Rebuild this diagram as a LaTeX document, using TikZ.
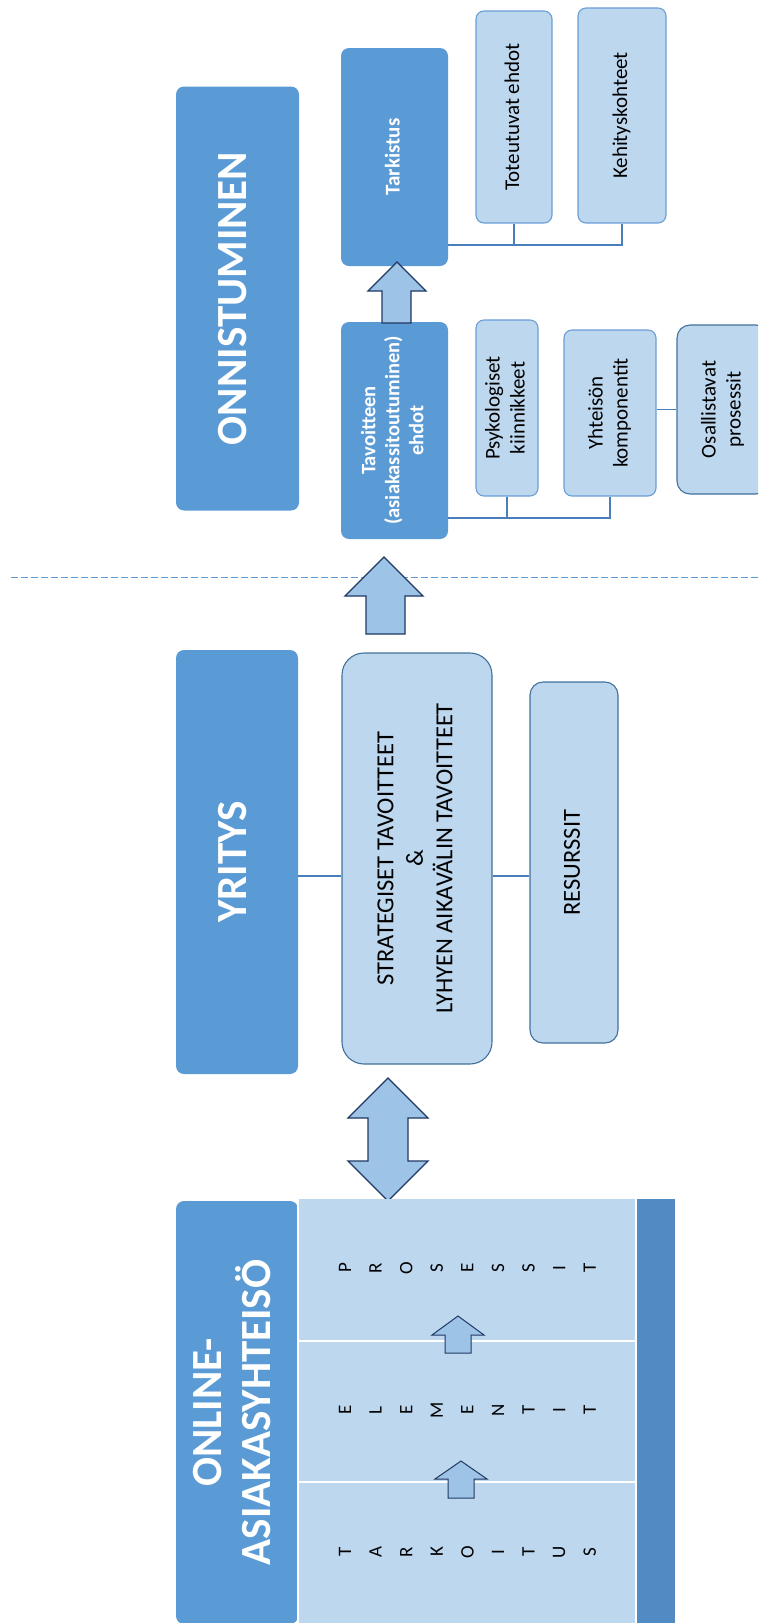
\documentclass[tikz,border=0pt]{standalone}
\usepackage{fontspec}
\usepackage{graphicx}
\setmainfont{Carlito}
\definecolor{boxblue}{HTML}{5B9BD5}
\definecolor{paleblue}{HTML}{BDD7EE}
\definecolor{arrowfill}{HTML}{9DC3E6}
\definecolor{arrowline}{HTML}{203864}
\definecolor{edgeblue}{HTML}{41719C}
\definecolor{softedge}{HTML}{6A9ED6}
\definecolor{stripblue}{HTML}{528BC4}
\definecolor{lineblue}{HTML}{4A7EBB}
\newcommand{\vtext}[1]{\rotatebox{90}{\begin{tabular}{@{}c@{}}#1\end{tabular}}}
\begin{document}
\begin{tikzpicture}[x=1pt, y=-1pt,
    darkbox/.style={fill=boxblue, draw=none, rounded corners=8pt, text=white, inner sep=0pt},
    titlebox/.style={darkbox, font=\fontsize{43}{46}\selectfont\bfseries},
    palebox/.style={fill=paleblue, draw=softedge, line width=1.1pt, rounded corners=8pt, inner sep=0pt,
        font=\fontsize{21}{25}\selectfont},
    bigpale/.style={fill=paleblue, draw=edgeblue, line width=1.1pt, inner sep=0pt,
        font=\fontsize{24.5}{29.5}\selectfont},
    blockarrow/.style={fill=arrowfill, draw=arrowline, line width=1.3pt, line join=miter},
    conn/.style={draw=lineblue, line width=1.3pt},
    letter/.style={rotate=90, inner sep=0pt, font=\fontsize{19}{19}\selectfont}]
    \useasboundingbox (0,0) rectangle (758,1623);
    \clip (0,0) rectangle (758,1623);

    % Separator
    \coordinate (dashL) at (11,577);
    \coordinate (dashR) at (758,577);
    \draw[boxblue, line width=1pt, dash pattern=on 7pt off 3pt] (dashL) -- (dashR);

    % Titles
    \node[titlebox, minimum width=123, minimum height=424] (onnist) at (237.5,298.5) {\vtext{ONNISTUMINEN}};
    \node[titlebox, minimum width=122, minimum height=424] (yritys) at (237,862) {\vtext{YRITYS}};
    \node[titlebox, minimum width=122, minimum height=423] (online) at (237,1412.5) {\vtext{ONLINE-\\ASIAKASYHTEISÖ}};

    % Success side
    \node[darkbox, minimum width=107, minimum height=218, font=\fontsize{21}{25}\selectfont\bfseries]
        (tarkist) at (394.5,157) {\vtext{Tarkistus}};
    \node[palebox, minimum width=76, minimum height=212] (toteut) at (514,117) {\vtext{Toteutuvat ehdot}};
    \node[palebox, minimum width=88, minimum height=215] (kehit) at (622,115.5) {\vtext{Kehityskohteet}};
    \node[darkbox, minimum width=107, minimum height=217, font=\fontsize{20.5}{24}\selectfont\bfseries]
        (tavoit) at (394.5,430.5) {\vtext{Tavoitteen\\(asiakassitoutuminen)\\ehdot}};
    \node[palebox, minimum width=62, minimum height=176] (psyk) at (507,408) {\vtext{Psykologiset\\kiinnikkeet}};
    \node[palebox, minimum width=92, minimum height=166] (yhteis) at (610,413) {\vtext{Yhteisön\\komponentit}};
    \node[palebox, draw=edgeblue, rounded corners=13pt, minimum width=92, minimum height=169]
        (osall) at (723,409.5) {\vtext{Osallistavat\\prosessit}};

    \coordinate (tarjoin) at (tarkist.east |- 0,245);
    \draw[conn] (tarjoin) -- (kehit.south |- tarjoin) -- (kehit.south);
    \draw[conn] (toteut.south) -- (toteut.south |- tarjoin);
    \coordinate (tavjoin) at (tavoit.east |- 0,518);
    \draw[conn] (tavjoin) -- (yhteis.south |- tavjoin) -- (yhteis.south);
    \draw[conn] (psyk.south) -- (psyk.south |- tavjoin);
    \draw[conn] (yhteis.east |- osall.west) -- (osall.west);

    % Arrow up to Tarkistus
    \draw[blockarrow] (382,323) -- (382,291) -- (368,291) -- (397,262) -- (426,291) -- (411,291) -- (411,323) -- cycle;

    % Company side
    \node[bigpale, rounded corners=22pt, minimum width=150, minimum height=411] (strateg) at (417,858.5)
        {\vtext{STRATEGISET TAVOITTEET\\\&\\LYHYEN AIKAVÄLIN TAVOITTEET}};
    \node[bigpale, rounded corners=13pt, minimum width=88, minimum height=361] (resurs) at (574,862.5)
        {\vtext{RESURSSIT}};
    \draw[conn] (yritys.east |- 0,876) -- (strateg.west |- 0,876);
    \draw[conn] (strateg.east |- 0,876) -- (resurs.west |- 0,876);

    % Arrow up across the separator
    \draw[blockarrow] (366,634) -- (366,596) -- (345,596) -- (384,557) -- (423,596) -- (405,596) -- (405,634) -- cycle;

    % Double arrow
    \draw[blockarrow] (388,1078) -- (428,1118) -- (408,1118) -- (408,1161) -- (428,1161) -- (388,1201)
        -- (348,1161) -- (368,1161) -- (368,1118) -- (348,1118) -- cycle;

    % Community panel
    \node[fill=paleblue, draw=none, inner sep=0pt, minimum width=338, minimum height=424] (panel) at (467,1411) {};
    \node[fill=stripblue, draw=none, inner sep=0pt, minimum width=38, minimum height=424] (strip) at (655.5,1411) {};
    \draw[white, line width=1.5pt] (panel.north west) -- (panel.south west);
    \draw[white, line width=1.5pt] (panel.north east) -- (panel.south east);
    \draw[white, line width=1.5pt] (panel.west |- 0,1341) -- (panel.east |- 0,1341);
    \draw[white, line width=1.5pt] (panel.west |- 0,1482) -- (panel.east |- 0,1482);

    % Small arrows
    \draw[blockarrow, line width=1pt] (445,1353) -- (445,1335) -- (432,1335) -- (458,1316) -- (484,1335) -- (471,1335) -- (471,1353) -- cycle;
    \draw[blockarrow, line width=1pt] (448,1498) -- (448,1479) -- (435,1479) -- (461,1461) -- (487,1479) -- (474,1479) -- (474,1498) -- cycle;

    % Letters
    \foreach \ch [count=\i from 0] in {P,R,O,S,E,S,S,I,T}
        \node[letter] (pro\i) at (345+30.6*\i,1268) {\ch};
    \foreach \ch [count=\i from 0] in {E,L,E,M,E,N,T,I,T}
        \node[letter] (ele\i) at (345+30.6*\i,1410) {\ch};
    \foreach \ch [count=\i from 0] in {T,A,R,K,O,I,T,U,S}
        \node[letter] (tar\i) at (345+30.6*\i,1552) {\ch};
\end{tikzpicture}
\end{document}
